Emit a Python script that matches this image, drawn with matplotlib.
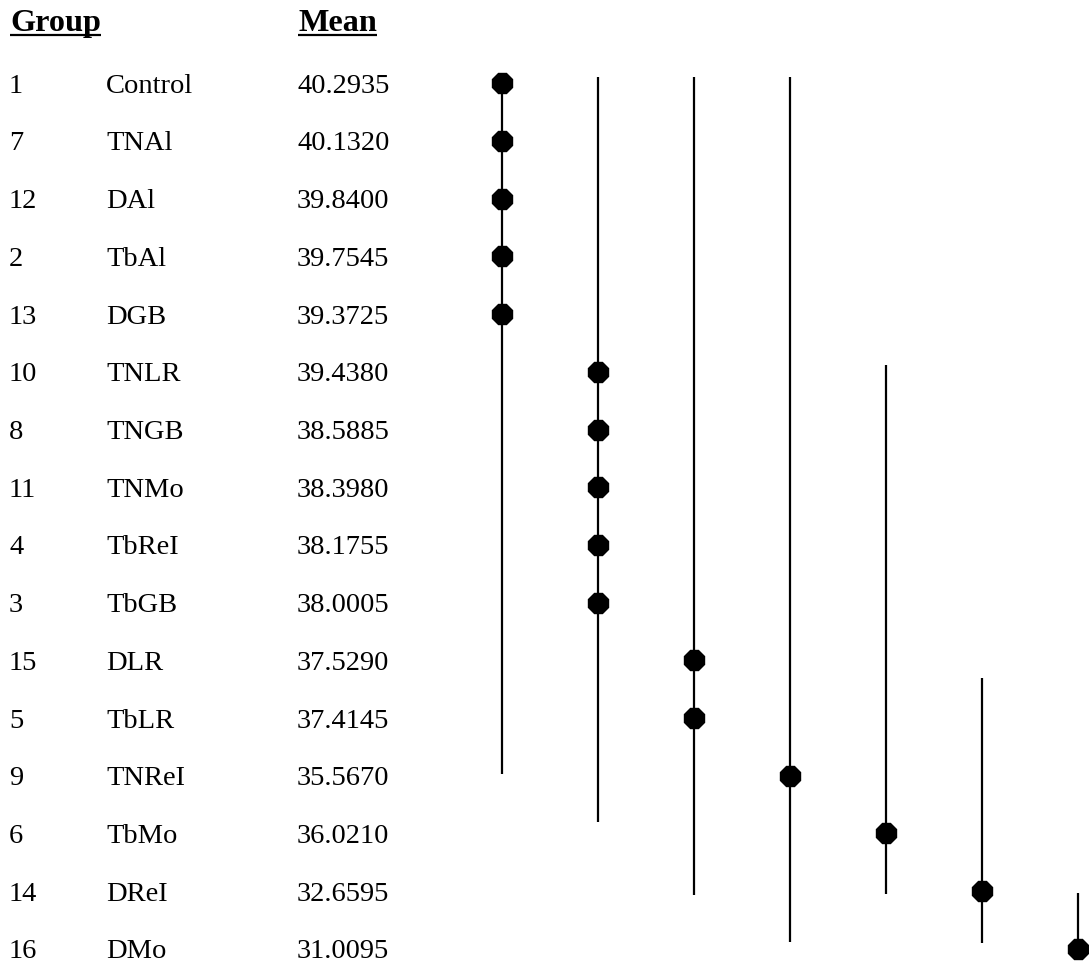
import matplotlib.pyplot as plt

# group numbers, treatment names and means, in ranked order
groups = [1, 7, 12, 2, 13, 10, 8, 11, 4, 3, 15, 5, 9, 6, 14, 16]
names = ["Control", "TNAl", "DAl", "TbAl", "DGB", "TNLR", "TNGB", "TNMo",
         "TbReI", "TbGB", "DLR", "TbLR", "TNReI", "TbMo", "DReI", "DMo"]
means = [40.2935, 40.1320, 39.8400, 39.7545, 39.3725, 39.4380, 38.5885, 38.3980,
         38.1755, 38.0005, 37.5290, 37.4145, 35.5670, 36.0210, 32.6595, 31.0095]

# which homogeneous-subset column each group's dot sits in
subset = [0, 0, 0, 0, 0, 1, 1, 1, 1, 1, 2, 2, 3, 4, 5, 6]
# vertical span (in rows) of the line for each subset column
line_top = [-0.11, -0.11, -0.11, -0.11, 4.88, 10.3, 14.03]
line_bottom = [11.97, 12.80, 14.07, 14.88, 14.05, 14.90, 15.0]

plt.rcParams['font.family'] = ['Liberation Serif', 'DejaVu Serif']

W, H = 1089, 965
fig = plt.figure(figsize=(W / 100, H / 100), dpi=100)
ax = fig.add_axes([0, 0, 1, 1])
ax.axis('off')

# x in subset-column units (one column = 96 px, first at 502 px)
# y in row units (one row = 57.7 px, first at 83.3 px)
col0, col_w = 502, 96
row0, row_h = 83.3, 57.7
ax.set_xlim(-col0 / col_w, (W - col0) / col_w)
ax.set_ylim((H - row0) / row_h, -row0 / row_h)

for k in range(len(line_top)):
    ax.plot([k, k], [line_top[k], line_bottom[k]], color='black', lw=1.6,
            solid_capstyle='butt', zorder=2)

rows = list(range(len(groups)))
ax.plot(subset, rows, linestyle='none', marker='8', ms=15.5, color='black',
        zorder=3)

def px_x(p):
    return (p - col0) / col_w

# table text
base_off = 9.5 / row_h
for i in rows:
    y = i + base_off
    ax.text(px_x(9), y, str(groups[i]), fontsize=20.5, va='baseline', ha='left')
    ax.text(px_x(106), y, names[i], fontsize=20.5, va='baseline', ha='left')
    ax.text(px_x(297), y, f"{means[i]:.4f}", fontsize=20.5, va='baseline', ha='left')

# underlined bold headers
head_y = (31 - row0) / row_h
headers = []
for x0, label in [(10, "Group"), (298, "Mean")]:
    headers.append(ax.text(px_x(x0), head_y, label, fontsize=23.2,
                           fontweight='bold', va='baseline', ha='left'))

fig.canvas.draw()
renderer = fig.canvas.get_renderer()
inv = ax.transData.inverted()
for t in headers:
    bb = t.get_window_extent(renderer)
    (xa, _), (xb, _) = inv.transform([(bb.x0, 0), (bb.x1, 0)])
    uy = (35 - row0) / row_h
    ax.plot([xa, xb], [uy, uy], color='black', lw=1.6, solid_capstyle='butt')

fig.savefig('out.png', dpi=100)
